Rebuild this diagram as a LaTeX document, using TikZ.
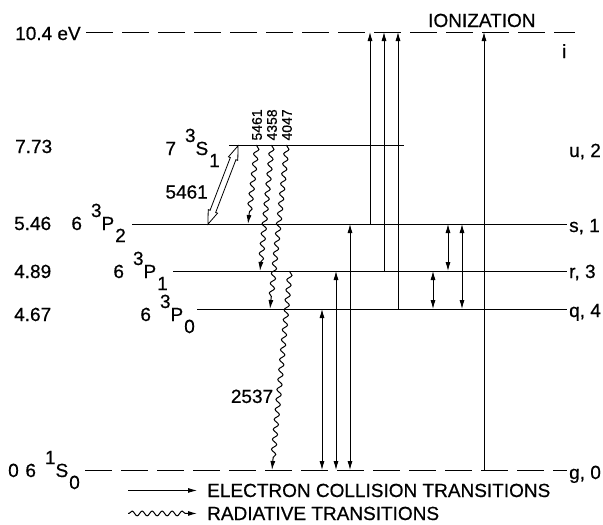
\documentclass[tikz,border=0pt]{standalone}
\usepackage{fontspec}
\setmainfont[FakeBold=0.6]{Liberation Sans}
\usetikzlibrary{arrows.meta,decorations.pathmorphing,shapes.arrows}

\newcommand{\term}[4]{#1\hspace{9pt}\raisebox{13pt}{#2}#3\hspace{1pt}\raisebox{-12pt}{#4}}

\begin{document}
\begin{tikzpicture}[x=1pt, y=-1pt]
    \tikzstyle{lbl} = [font=\fontsize{19}{21}\selectfont, inner sep=1pt]
    \tikzstyle{wl} = [font=\fontsize{14}{15}\selectfont, inner sep=4pt]
    \tikzstyle{lvl} = [line width=1pt]
    \tikzstyle{dlvl} = [line width=1pt, dash pattern=on 27pt off 9pt]
    \tikzstyle{coll} = [line width=0.8pt, -{Latex[length=9pt,width=5pt]}]
    \tikzstyle{both} = [line width=0.8pt,
        {Latex[length=9pt,width=5pt]}-{Latex[length=9pt,width=5pt]}]
    \tikzstyle{rad} = [line width=1pt, -{Latex[length=9pt,width=5pt]}, decorate,
        decoration={snake, amplitude=2.4pt, segment length=10pt,
        pre length=1pt, post length=8pt}]
    \tikzstyle{hollow} = [double arrow, draw, fill=white, line width=0.8pt,
        minimum height=84pt, inner sep=2.6pt,
        double arrow head extend=2pt, double arrow tip angle=40]

    \useasboundingbox (0,0) rectangle (603,525);

    % energy levels
    \coordinate (i) at (86,32);
    \coordinate (u) at (229,145);
    \coordinate (s) at (132,224);
    \coordinate (r) at (173,271);
    \coordinate (q) at (197,309);
    \coordinate (g) at (85,470);

    \draw [dlvl] (i) -- (575,0 |- i);
    \draw [lvl] (u) -- (404,0 |- u);
    \draw [lvl] (s) -- (567,0 |- s);
    \draw [lvl] (r) -- (567,0 |- r);
    \draw [lvl] (q) -- (567,0 |- q);
    \draw [dlvl] (g) -- (567,0 |- g);

    % energies
    \node (ei) [lbl, anchor=base west] at (14,40) {10.4 eV};
    \node (eu) [lbl, anchor=base west] at (14,153) {7.73};
    \node (es) [lbl, anchor=base west] at (13,230) {5.46};
    \node (er) [lbl, anchor=base west] at (13,278) {4.89};
    \node (eq) [lbl, anchor=base west] at (13,321) {4.67};
    \node (eg) [lbl, anchor=base west] at (7,477) {0};

    % terms
    \node (tu) [lbl, anchor=base east] at (221,155) {\term{7}{3}{S}{1}};
    \node (ts) [lbl, anchor=base east] at (127,230) {\term{6}{3}{P}{2}};
    \node (tr) [lbl, anchor=base east] at (169,278) {\term{6}{3}{P}{1}};
    \node (tq) [lbl, anchor=base east] at (196,321) {\term{6}{3}{P}{0}};
    \node (tg) [lbl, anchor=base east] at (81,477) {\term{6}{1}{S}{0}};

    % state names
    \node (ion) [lbl, anchor=base west] at (427,27) {IONIZATION};
    \node (ni) [lbl, anchor=base west] at (561,58) {i};
    \node (nu) [lbl, anchor=base west] at (568,157) {u, 2};
    \node (ns) [lbl, anchor=base west] at (568,232) {s, 1};
    \node (nr) [lbl, anchor=base west] at (568,278) {r, 3};
    \node (nq) [lbl, anchor=base west] at (568,317) {q, 4};
    \node (ng) [lbl, anchor=base west] at (568,479) {g, 0};

    % collisions
    \foreach \x/\a in {370/s, 384/r, 398/q, 484/g}
        \draw [coll] (\x,0 |- \a) -- (\x,0 |- i);
    \foreach \x/\a/\b in {322/g/q, 336/g/r, 350/g/s, 433/q/r, 448/r/s, 462/q/s}
        \draw [both] (\x,0 |- \a) -- (\x,0 |- \b);

    % radiative
    \draw [rad] (257,0 |- u) -- node[wl, pos=0, anchor=west, rotate=90] {5461} (248,0 |- s);
    \draw [rad] (272,0 |- u) -- node[wl, pos=0, anchor=west, rotate=90] {4358} (260,0 |- r);
    \draw [rad] (287,0 |- u) -- node[wl, pos=0, anchor=west, rotate=90] {4047} (270,0 |- q);
    \draw [rad] (290,0 |- r) -- node[lbl, pos=0.63, left=4pt] {2537} (272,0 |- g);

    \node (absorb) [hollow, rotate=69] at (223,185) {};
    \node (la) [lbl, anchor=east] at (209,192) {5461};

    % legend
    \node (lcoll) [lbl, anchor=base west] at (206,497) {ELECTRON COLLISION TRANSITIONS};
    \node (lrad) [lbl, anchor=base west] at (206,520) {RADIATIVE TRANSITIONS};
    \draw [coll] ([xshift=-78pt]lcoll.west) -- ([xshift=-9pt]lcoll.west);
    \draw [rad] ([xshift=-78pt]lrad.west) -- ([xshift=-9pt]lrad.west);
\end{tikzpicture}
\end{document}
